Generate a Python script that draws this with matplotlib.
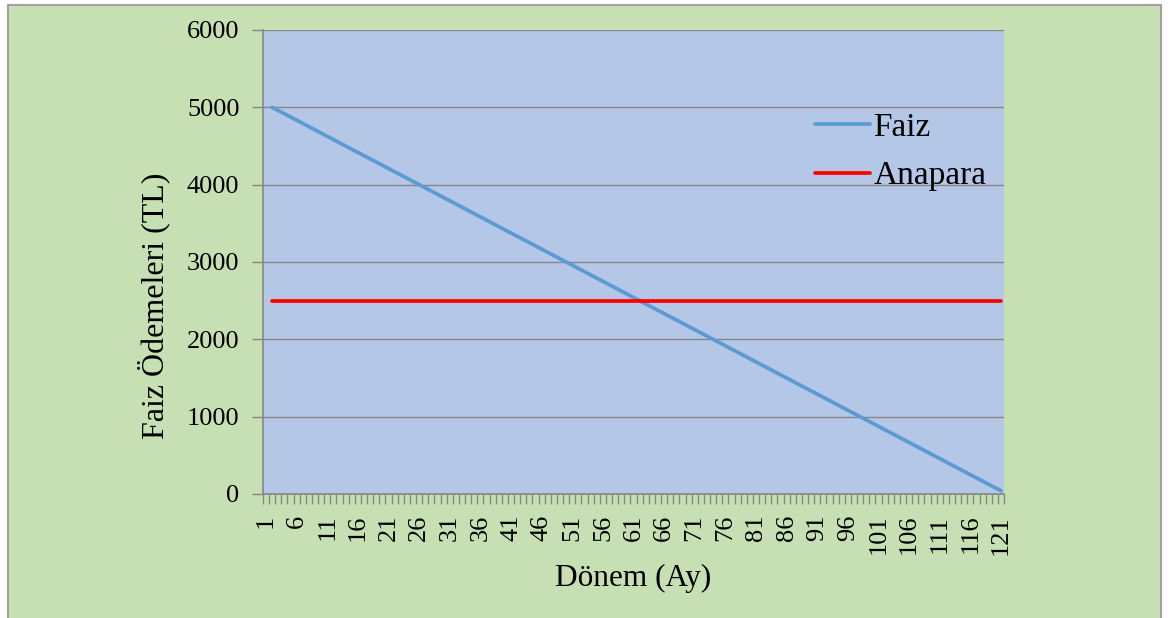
import matplotlib
matplotlib.use("Agg")
import matplotlib.pyplot as plt
from matplotlib.patches import Rectangle
from matplotlib.ticker import FixedLocator

# Periods shown on the category axis (1..121); series start at period 2
periods = list(range(1, 122))
label_periods = list(range(1, 122, 5))

faiz = [5000, 4958.33, 4916.67, 4875, 4833.33, 4791.67, 4750, 4708.33, 4666.67, 4625,
        4583.33, 4541.67, 4500, 4458.33, 4416.67, 4375, 4333.33, 4291.67, 4250, 4208.33,
        4166.67, 4125, 4083.33, 4041.67, 4000, 3958.33, 3916.67, 3875, 3833.33, 3791.67,
        3750, 3708.33, 3666.67, 3625, 3583.33, 3541.67, 3500, 3458.33, 3416.67, 3375,
        3333.33, 3291.67, 3250, 3208.33, 3166.67, 3125, 3083.33, 3041.67, 3000, 2958.33,
        2916.67, 2875, 2833.33, 2791.67, 2750, 2708.33, 2666.67, 2625, 2583.33, 2541.67,
        2500, 2458.33, 2416.67, 2375, 2333.33, 2291.67, 2250, 2208.33, 2166.67, 2125,
        2083.33, 2041.67, 2000, 1958.33, 1916.67, 1875, 1833.33, 1791.67, 1750, 1708.33,
        1666.67, 1625, 1583.33, 1541.67, 1500, 1458.33, 1416.67, 1375, 1333.33, 1291.67,
        1250, 1208.33, 1166.67, 1125, 1083.33, 1041.67, 1000, 958.33, 916.67, 875,
        833.33, 791.67, 750, 708.33, 666.67, 625, 583.33, 541.67, 500, 458.33,
        416.67, 375, 333.33, 291.67, 250, 208.33, 166.67, 125, 83.33, 41.67]
anapara = [2500] * 120
series_periods = periods[1:]

yticks = [0, 1000, 2000, 3000, 4000, 5000, 6000]

GREEN = "#C6E0B4"
PLOT_BG = "#B4C7E7"
GRID = "#878787"
FAIZ_C = "#5B9BD5"
ANAPARA_C = "#FF0000"

plt.rcParams["font.family"] = ["Liberation Serif", "DejaVu Serif"]

W, H = 1176, 618
fig = plt.figure(figsize=(W / 100, H / 100), dpi=100, facecolor="white")

# green chart area with a thin grey frame
fig.patches.append(Rectangle((8 / W, -0.01), (1161 - 8) / W, 1 - 5 / H + 0.01,
                             transform=fig.transFigure, facecolor=GREEN,
                             edgecolor="#A0A0A0", linewidth=1.5, zorder=-10))

ax = fig.add_axes([263 / W, 1 - 494 / H, (1004 - 263) / W, (494 - 30) / H])
ax.set_facecolor(PLOT_BG)

ax.plot(series_periods, faiz, color=FAIZ_C, lw=2.7, label="Faiz",
        solid_capstyle="round", zorder=3)
ax.plot(series_periods, anapara, color=ANAPARA_C, lw=2.7, label="Anapara",
        solid_capstyle="round", zorder=3)

ax.set_xlim(0.5, 121.5)
ax.set_ylim(0, 6000)

ax.set_yticks(yticks)
ax.yaxis.grid(True, color=GRID, lw=1)
ax.set_axisbelow(True)
ax.tick_params(axis="y", direction="out", length=8, width=1, color=GRID,
               labelsize=19, pad=9)

ax.xaxis.set_major_locator(FixedLocator(label_periods))
ax.set_xticklabels([str(p) for p in label_periods], rotation=90)
ax.xaxis.set_minor_locator(FixedLocator([p - 0.5 for p in periods] + [121.5]))
ax.tick_params(axis="x", which="major", length=0, labelsize=19, pad=15)
ax.tick_params(axis="x", which="minor", direction="out", length=7, width=1, color=GRID)

for side in ("top", "right"):
    ax.spines[side].set_visible(False)
for side in ("left", "bottom"):
    ax.spines[side].set_color(GRID)
    ax.spines[side].set_linewidth(1.2)

fig.text(154 / W, 1 - 306 / H, "Faiz Ödemeleri (TL)", fontsize=23, rotation=90,
         ha="center", va="center")
fig.text(633 / W, 1 - 578 / H, "Dönem (Ay)", fontsize=22.5, ha="center", va="center")

leg = ax.legend(loc="upper left", bbox_to_anchor=(0.745, 0.822), frameon=False,
                fontsize=24, handlelength=1.65, handletextpad=0.1,
                labelspacing=0.53, borderpad=0, borderaxespad=0)

fig.savefig("out.png", dpi=100, facecolor="white")
